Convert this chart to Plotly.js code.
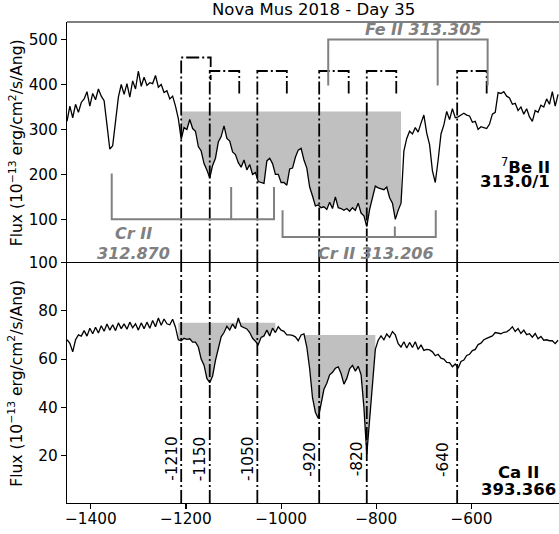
<!DOCTYPE html>
<html><head><meta charset="utf-8">
<script src="https://cdn.plot.ly/plotly-3.0.1.min.js"></script>
<style>html,body{margin:0;padding:0;background:#fff;overflow:hidden}</style>
</head><body><div id="plot" style="width:559px;height:534px"></div>
<script>
// ---------------- data ----------------
const vel = [
-1450,-1444,-1438,-1432,-1426,-1420,-1414,-1408,-1402,-1396,
-1390,-1384,-1378,-1372,-1366,-1360,-1354,-1348,-1342,-1336,
-1330,-1324,-1318,-1312,-1306,-1300,-1294,-1288,-1282,-1276,
-1270,-1264,-1258,-1252,-1246,-1240,-1234,-1228,-1222,-1216,
-1210,-1204,-1198,-1192,-1186,-1180,-1174,-1168,-1162,-1156,
-1150,-1144,-1138,-1132,-1126,-1120,-1114,-1108,-1102,-1096,
-1090,-1084,-1078,-1072,-1066,-1060,-1054,-1048,-1042,-1036,
-1030,-1024,-1018,-1012,-1006,-1000,-994,-988,-982,-976,
-970,-964,-958,-952,-946,-940,-934,-928,-922,-916,
-910,-904,-898,-892,-886,-880,-874,-868,-862,-856,
-850,-844,-838,-832,-826,-820,-814,-808,-802,-796,
-790,-784,-778,-772,-766,-760,-754,-748,-742,-736,
-730,-724,-718,-712,-706,-700,-694,-688,-682,-676,
-670,-664,-658,-652,-646,-640,-634,-628,-622,-616,
-610,-604,-598,-592,-586,-580,-574,-568,-562,-556,
-550,-544,-538,-532,-526,-520,-514,-508,-502,-496,
-490,-484,-478,-472,-466,-460,-454,-448,-442,-436,
-430,-424,-418];

const fluxBe = [
318,352,326,356,338,360,368,384,352,380,
366,390,374,364,310,256,264,320,372,400,
378,402,372,408,390,430,396,416,398,404,
402,420,394,400,382,386,368,374,352,324,
278,304,300,322,302,296,262,252,224,210,
192,220,236,272,284,308,280,274,250,244,
226,216,232,210,222,200,204,184,182,180,
230,236,224,200,200,182,182,176,212,214,
238,254,258,232,214,172,152,130,132,126,
128,122,138,124,150,126,124,120,124,118,
126,120,136,114,108,84,122,150,174,170,
168,166,172,148,136,100,120,136,252,280,
296,290,304,294,314,332,292,266,208,182,
232,290,310,340,322,346,326,328,332,336,
332,330,316,318,300,306,304,302,312,334,
338,382,380,384,374,370,356,358,342,350,
334,346,328,318,342,338,354,350,368,356,
384,352,378];

const fluxCa = [
68.0,66.5,63.0,68.0,70.0,69.5,71.8,69.5,72.8,70.5,
73.2,70.8,73.8,71.5,74.5,72.0,74.2,71.8,75.0,72.6,
74.6,72.4,75.3,73.0,74.6,72.0,75.0,72.6,75.3,72.8,
76.0,73.4,77.0,74.0,76.6,74.6,74.2,76.5,73.2,68.0,
67.6,68.6,68.2,68.4,67.0,67.0,65.0,60.0,57.5,52.0,
50.2,53.0,59.5,64.5,69.2,71.0,73.6,72.0,74.5,72.6,
77.0,73.6,73.0,72.5,71.0,68.6,67.4,66.0,69.0,69.6,
72.0,69.6,72.8,71.0,73.4,72.0,71.5,70.0,70.0,69.8,
69.2,67.6,70.0,70.4,65.0,56.0,44.0,38.0,35.5,41.0,
47.5,50.0,53.5,54.5,56.2,56.8,54.0,49.6,52.0,56.0,
57.4,55.0,57.0,53.6,40.0,20.5,36.0,52.0,64.0,67.8,
69.6,68.0,70.4,69.0,71.4,70.0,66.4,65.0,67.2,64.6,
66.9,64.8,67.2,64.0,65.9,63.6,64.0,63.8,63.0,61.4,
62.0,60.4,60.0,58.6,58.5,56.8,58.0,56.2,59.0,59.6,
61.5,62.0,63.5,64.0,66.0,66.6,68.0,68.6,69.0,69.6,
71.0,70.8,70.5,71.1,71.3,72.1,73.4,71.4,72.6,70.6,
72.0,70.1,70.5,69.1,70.6,68.4,69.4,67.8,68.0,67.6,
67.6,66.4,67.8];

// absorption components (km/s) and their labels
const compVel    = [-1210, -1150, -1050, -920, -820, -630];
const compLabels = ['-1210','-1150','-1050','-920','-820','-640'];
const compTop    = [460, 430, 430, 430, 430, 430];   // Be II bracket height
const compDrop   = [410, 380, 380, 380, 380, 380];   // second doublet leg end
const doubletSep = 62;                                 // 7Be II 313.0/313.1 separation

// grey line-identification combs
const crA_vel = [-1356, -1105, -1015], crA_tip = [202, 172, 172], crA_base = 100;
const crB_vel = [-997, -761, -675],    crB_tip = [120, 84, 120],  crB_base = 61;
const fe_vel  = [-901, -671, -566],    fe_tip  = [398, 398, 398], fe_base  = 500;

// shaded equivalent-width regions [start, end, continuum]
const shadeBe = [[-1210, -745, 340]];
const shadeCa = [[-1220, -1010, 75], [-953, -799, 70]];

// ---------------- drawing ----------------
const FONT = 'DejaVu Sans';
const yTopRange = [4, 539];
const yBotRange = [0.4, 100];
const DASHDOT = '13px,3px,2px,3px';
const GREY = '#808080';
const traces = [];

function shadeTrace(v0, v1, lvl, flux, yax) {
  const xs = [], ys = [];
  vel.forEach((v, i) => { if (v >= v0 && v <= v1) { xs.push(v); ys.push(flux[i]); } });
  const xr = xs.slice().reverse();
  return { x: xs.concat(xr), y: ys.concat(xr.map(() => lvl)), xaxis: 'x', yaxis: yax,
    type: 'scatter', mode: 'lines', fill: 'toself', fillcolor: '#c0c0c0',
    line: { width: 0, color: '#c0c0c0' }, hoverinfo: 'skip', showlegend: false };
}
shadeBe.forEach(s => traces.push(shadeTrace(s[0], s[1], s[2], fluxBe, 'y2')));
shadeCa.forEach(s => traces.push(shadeTrace(s[0], s[1], s[2], fluxCa, 'y')));

// dash-dot brackets in the top panel, full-height lines in the bottom panel
compVel.forEach((v, i) => {
  traces.push({ x: [v, v, v + doubletSep, v + doubletSep],
    y: [yTopRange[0], compTop[i], compTop[i], compDrop[i]],
    xaxis: 'x', yaxis: 'y2', type: 'scatter', mode: 'lines',
    line: { color: 'black', width: 1.8, dash: DASHDOT }, hoverinfo: 'skip', showlegend: false });
  traces.push({ x: [v, v], y: [yBotRange[0], yBotRange[1]],
    xaxis: 'x', yaxis: 'y', type: 'scatter', mode: 'lines',
    line: { color: 'black', width: 1.8, dash: DASHDOT }, hoverinfo: 'skip', showlegend: false });
});

// grey combs
function comb(vs, tips, base) {
  const xs = [vs[0], vs[0], vs[2], vs[2], null, vs[1], vs[1]];
  const ys = [tips[0], base, base, tips[2], null, base, tips[1]];
  return { x: xs, y: ys, xaxis: 'x', yaxis: 'y2', type: 'scatter', mode: 'lines',
    line: { color: GREY, width: 2 }, hoverinfo: 'skip', showlegend: false, connectgaps: false };
}
traces.push(comb(crA_vel, crA_tip, crA_base));
traces.push(comb(crB_vel, crB_tip, crB_base));
traces.push(comb(fe_vel, fe_tip, fe_base));

// spectra
traces.push({ x: vel, y: fluxBe, xaxis: 'x', yaxis: 'y2', type: 'scatter', mode: 'lines',
  line: { color: 'black', width: 1.3 }, hoverinfo: 'skip', showlegend: false });
traces.push({ x: vel, y: fluxCa, xaxis: 'x', yaxis: 'y', type: 'scatter', mode: 'lines',
  line: { color: 'black', width: 1.3 }, hoverinfo: 'skip', showlegend: false });

const axisCommon = {
  showgrid: false, zeroline: false, showline: true, linecolor: 'black', linewidth: 1.1,
  ticks: 'outside', ticklen: 5, tickwidth: 1.1, tickcolor: 'black',
  tickfont: { family: FONT, size: 15.3, color: 'black' }
};

const yTitle = 'Flux (10<sup>−13</sup> erg/cm<sup>2</sup>/s/Ang)';
const greyFont = { family: FONT, size: 16, color: GREY };
const blackBold = { family: FONT, size: 16.5, color: 'black' };
const annotations = [
  { text: 'Nova Mus 2018 - Day 35', xref: 'paper', yref: 'paper', x: 0.5, y: 1.025,
    xanchor: 'center', yanchor: 'middle', showarrow: false, font: { family: FONT, size: 16.5, color: 'black' } },
  { text: yTitle, xref: 'paper', yref: 'paper', x: -0.1037, y: 0.75, textangle: -90,
    xanchor: 'center', yanchor: 'middle', showarrow: false, font: { family: FONT, size: 15.5, color: 'black' } },
  { text: yTitle, xref: 'paper', yref: 'paper', x: -0.1037, y: 0.25, textangle: -90,
    xanchor: 'center', yanchor: 'middle', showarrow: false, font: { family: FONT, size: 15.5, color: 'black' } },
  { text: '<b><i>Cr II</i></b>', xref: 'x', yref: 'y2', x: -1311, y: 69, showarrow: false,
    xanchor: 'center', yanchor: 'middle', font: greyFont },
  { text: '<b><i>312.870</i></b>', xref: 'x', yref: 'y2', x: -1311, y: 24.4, showarrow: false,
    xanchor: 'center', yanchor: 'middle', font: greyFont },
  { text: '<b><i>Cr II 313.206</i></b>', xref: 'x', yref: 'y2', x: -801, y: 24.4, showarrow: false,
    xanchor: 'center', yanchor: 'middle', font: greyFont },
  { text: '<b><i>Fe II 313.305</i></b>', xref: 'x', yref: 'y2', x: -701, y: 522, showarrow: false,
    xanchor: 'center', yanchor: 'middle', font: greyFont },
  { text: '<sup>7</sup><b>Be II</b>', xref: 'x', yref: 'y2', x: -431, y: 218, showarrow: false,
    xanchor: 'right', yanchor: 'middle', font: blackBold },
  { text: '<b>313.0/1</b>', xref: 'x', yref: 'y2', x: -431, y: 184, showarrow: false,
    xanchor: 'right', yanchor: 'middle', font: blackBold },
  { text: '<b>Ca II</b>', xref: 'x', yref: 'y', x: -501, y: 12.9, showarrow: false,
    xanchor: 'center', yanchor: 'middle', font: blackBold },
  { text: '<b>393.366</b>', xref: 'x', yref: 'y', x: -501, y: 6.0, showarrow: false,
    xanchor: 'center', yanchor: 'middle', font: blackBold }
];
compLabels.forEach(lab => {
  annotations.push({ text: lab, xref: 'x', yref: 'y', x: Number(lab), xshift: -9.5, y: 18.6,
    textangle: -90, showarrow: false, xanchor: 'center', yanchor: 'middle',
    font: { family: FONT, size: 15.3, color: 'black' } });
});

const layout = {
  width: 559, height: 534,
  margin: { l: 67, r: 0, t: 22, b: 31, pad: 0 },
  paper_bgcolor: 'white', plot_bgcolor: 'white',
  font: { family: FONT, color: 'black' },
  showlegend: false,
  xaxis: Object.assign({}, axisCommon, { range: [-1450, -416], anchor: 'y',
    tickvals: [-1400, -1200, -1000, -800, -600], domain: [0, 1], ticklabelstandoff: -3 }),
  yaxis: Object.assign({}, axisCommon, { range: yBotRange, domain: [0, 0.5], anchor: 'x',
    tickvals: [20, 40, 60, 80, 100] }),
  yaxis2: Object.assign({}, axisCommon, { range: yTopRange, domain: [0.5, 1], anchor: 'x',
    tickvals: [100, 200, 300, 400, 500] }),
  shapes: [
    { type: 'line', xref: 'paper', yref: 'paper', x0: 0, x1: 1, y0: 1, y1: 1, line: { color: 'black', width: 1.1 } },
    { type: 'line', xref: 'paper', yref: 'paper', x0: 0, x1: 1, y0: 0.5, y1: 0.5, line: { color: 'black', width: 1.1 } }
  ],
  annotations: annotations
};

Plotly.newPlot('plot', traces, layout, { staticPlot: true, displayModeBar: false });
</script>
</body></html>
